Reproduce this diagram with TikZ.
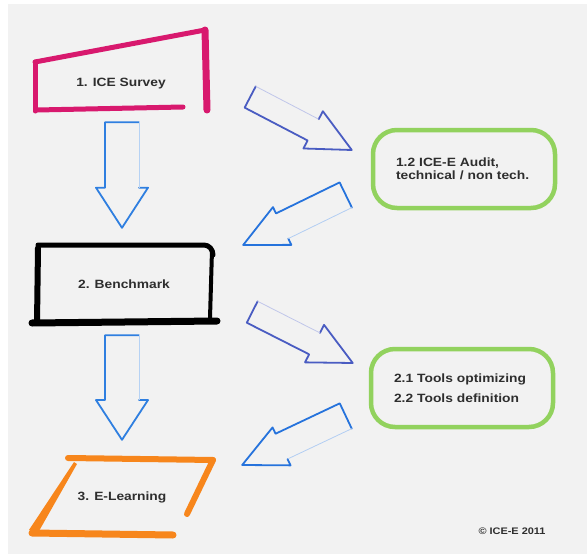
\documentclass[tikz,border=0pt]{standalone}
\usepackage{fontspec}
\setmainfont{Liberation Sans}[FakeStretch=1.15]
\usetikzlibrary{calc,positioning}

\definecolor{pagegray}{HTML}{F2F2F2}
\definecolor{labelgray}{HTML}{2E2E2E}
\definecolor{surveypink}{HTML}{D8196E}
\definecolor{learnorange}{HTML}{F7861C}
\definecolor{auditgreen}{HTML}{92D25E}
\definecolor{downblue}{HTML}{2F7FE0}
\definecolor{diagblue}{HTML}{4A5CC2}
\definecolor{backblue}{HTML}{2673DC}

% hollow block arrow from tail #2 to tip #3, shaft half width #4, head half width #5
\newcommand\fatarrow[5]{%
  \draw[#1, brush=1.8pt]
    ($(#2)!#4!90:(#3)$) -- ($(#2)!#4!-90:(#3)$)
    -- ($(#2)!.62!(#3)!#4!-90:(#3)$) -- ($(#2)!.62!(#3)!#5!-90:(#3)$)
    -- (#3) -- ($(#2)!.62!(#3)!#5!90:(#3)$)
    -- ($(#2)!.62!(#3)!#4!90:(#3)$);
  \draw[#1!35, line width=.8pt]
    ($(#2)!.62!(#3)!#4!90:(#3)$) -- ($(#2)!#4!90:(#3)$);
}

\begin{document}
\begin{tikzpicture}[x=1pt,y=1pt,
  brush/.style={line width=#1, line cap=round, line join=round},
  stage/.style={font=\bfseries\fontsize{12}{13}\selectfont, text=labelgray, inner sep=0pt},
  task/.style={draw=auditgreen, line width=4.5pt, rounded corners=24pt,
    minimum height=78pt, text width=136pt, inner xsep=23pt, align=left,
    font=\bfseries\fontsize{12}{13.5}\selectfont, text=labelgray},
]
  % page
  \fill[white] (0,0) rectangle (587,-554);
  \fill[pagegray] (8,-4) rectangle (587,-554);

  % stages on the left
  \node[stage, minimum width=172pt, minimum height=52pt] (survey) at (121,-84) {1. ICE Survey};
  \node[stage, minimum width=178pt, minimum height=78pt] (bench) at (124,-284) {2. Benchmark};
  \node[stage, minimum width=150pt, minimum height=74pt] (elearn) at (122,-497) {3. E-Learning};

  % sub tasks on the right
  \node[task] (audit) at (464,-169) {1.2 ICE-E Audit,\\technical / non tech.};
  \node[task] (tools) at (462,-388) {2.1 Tools optimizing\\[7pt]2.2 Tools definition};

  \node[font=\bfseries\fontsize{9.5}{10}\selectfont, text=labelgray] (mark) at (512,-531) {\textcopyright{} ICE-E 2011};

  % hand drawn frames
  \begin{scope}[shift={(survey.center)}, surveypink]
    \draw[brush=5pt] (-86,22) -- (-86,-27);
    \draw[brush=5pt] (-86,22) -- (84,54);
    \draw[brush=7pt] (84,54) -- (86,-26);
    \draw[brush=5pt] (-84,-26) -- (62,-23);
  \end{scope}

  \begin{scope}[shift={(bench.center)}]
    \draw[brush=5pt] (-86,39) -- (80,39) to[out=0,in=90] (89,29);
    \draw[brush=4pt] (88,34) -- (86,-34);
    \draw[brush=6pt] (-86,36) -- (-87,-39);
    \draw[brush=7pt] (-92,-39) -- (93,-37);
  \end{scope}

  \begin{scope}[shift={(elearn.center)}, learnorange]
    \draw[brush=6pt] (-54,39) -- (91,37);
    \draw[brush=6pt] (91,37) -- (65,-17);
    \draw[brush=7pt] (-90,-36) -- (51,-38);
    \fill (-48,35) -- (-45,33) -- (-83,-34) -- (-93,-33) -- cycle;
  \end{scope}

  % arrow ends
  \coordinate (s1) at ($(survey.south)+(1,-12)$);
  \coordinate (b1) at ($(bench.north)+(-2,17)$);
  \coordinate (s2) at ($(bench.south)+(-2,-12)$);
  \coordinate (e1) at ($(elearn.north)+(0,20)$);
  \coordinate (s3) at ($(survey.east)+(43,-13)$);
  \coordinate (a1) at ($(audit.west)+(-19,19)$);
  \coordinate (a2) at ($(audit.west)+(-25,-26)$);
  \coordinate (b2) at ($(bench.east)+(30,39)$);
  \coordinate (b3) at ($(bench.east)+(39,-28)$);
  \coordinate (t1) at ($(tools.west)+(-16,25)$);
  \coordinate (t2) at ($(tools.west)+(-23,-28)$);
  \coordinate (e2) at ($(elearn.east)+(45,32)$);

  % arrows
  \fatarrow{downblue}{s1}{b1}{17pt}{26pt}
  \fatarrow{downblue}{s2}{e1}{17pt}{26pt}
  \fatarrow{diagblue}{s3}{a1}{12pt}{21pt}
  \fatarrow{diagblue}{b3}{t1}{12pt}{21pt}
  \fatarrow{backblue}{a2}{b2}{14pt}{21pt}
  \fatarrow{backblue}{t2}{e2}{14pt}{21pt}
\end{tikzpicture}
\end{document}
